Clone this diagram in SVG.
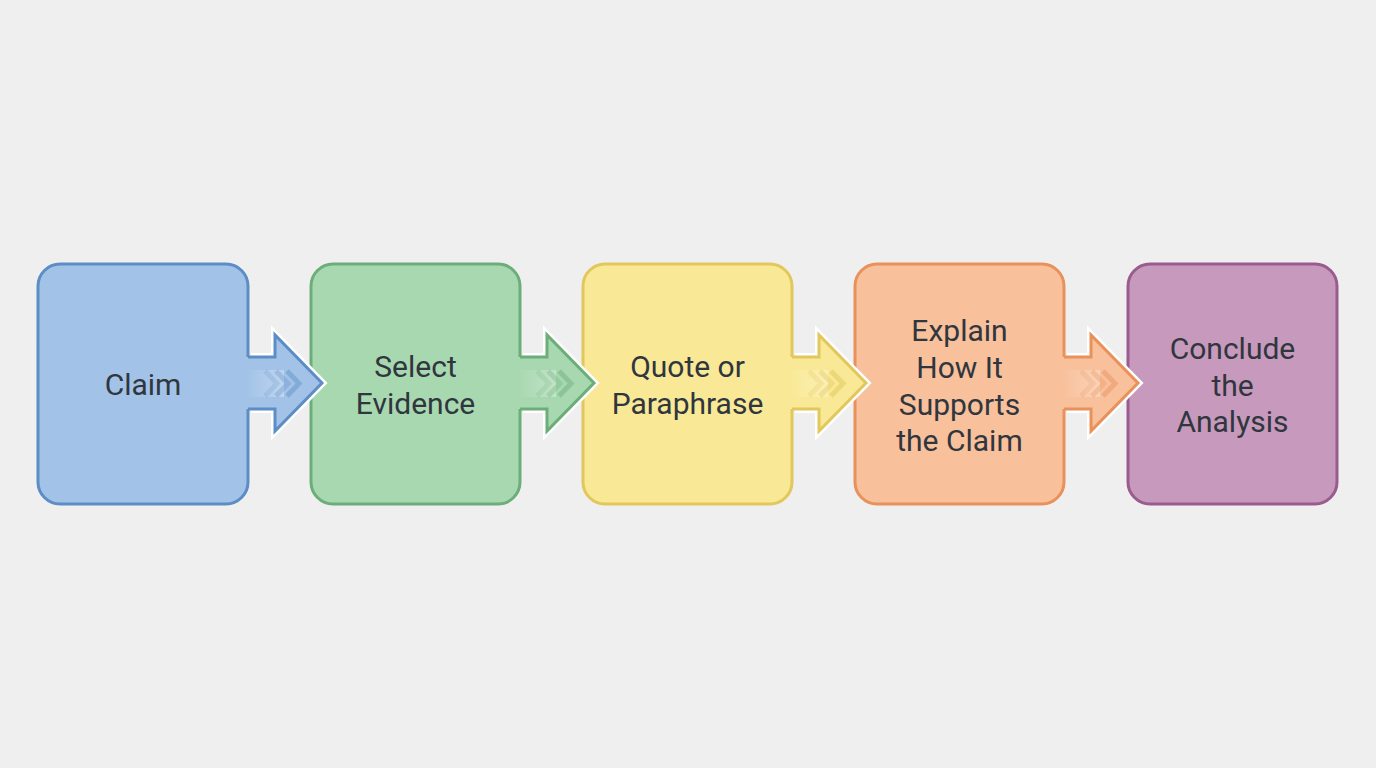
<svg xmlns="http://www.w3.org/2000/svg" width="1376" height="768" viewBox="0 0 1376 768">
<defs>
<style>
.box{stroke-width:3}
.lbl{font-family:Roboto,"Liberation Sans",sans-serif;font-size:30px;font-weight:400;fill:#30363e;text-anchor:middle}
.halo{fill:none;stroke:#ffffff;stroke-width:8;stroke-linejoin:miter}
.aout{fill:none;stroke-width:3;stroke-linejoin:miter}
.chev{fill:none;stroke-width:5}
</style>
<linearGradient id="band" x1="0" y1="0" x2="1" y2="0">
<stop offset="0" stop-color="#ffffff" stop-opacity="0"/>
<stop offset="1" stop-color="#ffffff" stop-opacity="0.3"/>
</linearGradient>
</defs>
<rect width="1376" height="768" fill="#efefef"/>
<g id="node-claim">
<rect class="box" x="38" y="264" width="210" height="240" rx="22" fill="#a2c3e7" stroke="#5d8dc5"/>
<text class="lbl" x="143" y="395">Claim</text>
</g>
<g id="node-evidence">
<rect class="box" x="311" y="264" width="209" height="240" rx="22" fill="#a8d8b0" stroke="#6cae79"/>
<text class="lbl" x="415.5" y="377">Select</text>
<text class="lbl" x="415.5" y="414">Evidence</text>
</g>
<g id="node-quote">
<rect class="box" x="583" y="264" width="209" height="240" rx="22" fill="#f9e996" stroke="#e2c75c"/>
<text class="lbl" x="687.5" y="377">Quote or</text>
<text class="lbl" x="687.5" y="414">Paraphrase</text>
</g>
<g id="node-explain">
<rect class="box" x="855" y="264" width="209" height="240" rx="22" fill="#f8c09b" stroke="#e8915b"/>
<text class="lbl" x="959.5" y="341">Explain</text>
<text class="lbl" x="959.5" y="378">How It</text>
<text class="lbl" x="959.5" y="415">Supports</text>
<text class="lbl" x="959.5" y="451">the Claim</text>
</g>
<g id="node-conclude">
<rect class="box" x="1128" y="264" width="209" height="240" rx="22" fill="#c799bc" stroke="#9a5c8f"/>
<text class="lbl" x="1232.5" y="359">Conclude</text>
<text class="lbl" x="1232.5" y="396">the</text>
<text class="lbl" x="1232.5" y="432">Analysis</text>
</g>
<g id="connectors">
<g transform="translate(248,0)">
<path class="halo" d="M3,357 H27 V335 L74,383 L27,431 V409 H3"/>
<path d="M-3,357 H27 V335 L74,383 L27,431 V409 H-3 Z" fill="#a2c3e7"/>
<rect x="-2" y="370" width="38" height="27" fill="url(#band)"/>
<polyline class="chev" points="17,371 29,383.5 17,396" stroke="#5d8dc5" stroke-opacity="0.2"/>
<polyline class="chev" points="28,371 40,383.5 28,396" stroke="#5d8dc5" stroke-opacity="0.32"/>
<polyline class="chev" points="39,371 51,383.5 39,396" stroke="#5d8dc5" stroke-opacity="0.45"/>
<path class="aout" d="M0,357 H27 V335 L74,383 L27,431 V409 H0" stroke="#5d8dc5"/>
</g>
<g transform="translate(520,0)">
<path class="halo" d="M3,357 H27 V335 L74,383 L27,431 V409 H3"/>
<path d="M-3,357 H27 V335 L74,383 L27,431 V409 H-3 Z" fill="#a8d8b0"/>
<rect x="-2" y="370" width="38" height="27" fill="url(#band)"/>
<polyline class="chev" points="17,371 29,383.5 17,396" stroke="#6cae79" stroke-opacity="0.2"/>
<polyline class="chev" points="28,371 40,383.5 28,396" stroke="#6cae79" stroke-opacity="0.32"/>
<polyline class="chev" points="39,371 51,383.5 39,396" stroke="#6cae79" stroke-opacity="0.45"/>
<path class="aout" d="M0,357 H27 V335 L74,383 L27,431 V409 H0" stroke="#6cae79"/>
</g>
<g transform="translate(792,0)">
<path class="halo" d="M3,357 H27 V335 L74,383 L27,431 V409 H3"/>
<path d="M-3,357 H27 V335 L74,383 L27,431 V409 H-3 Z" fill="#f9e996"/>
<rect x="-2" y="370" width="38" height="27" fill="url(#band)"/>
<polyline class="chev" points="17,371 29,383.5 17,396" stroke="#e2c75c" stroke-opacity="0.25"/>
<polyline class="chev" points="28,371 40,383.5 28,396" stroke="#e2c75c" stroke-opacity="0.38"/>
<polyline class="chev" points="39,371 51,383.5 39,396" stroke="#e2c75c" stroke-opacity="0.5"/>
<path class="aout" d="M0,357 H27 V335 L74,383 L27,431 V409 H0" stroke="#e2c75c"/>
</g>
<g transform="translate(1064,0)">
<path class="halo" d="M3,357 H27 V335 L74,383 L27,431 V409 H3"/>
<path d="M-3,357 H27 V335 L74,383 L27,431 V409 H-3 Z" fill="#f8c09b"/>
<rect x="-2" y="370" width="38" height="27" fill="url(#band)"/>
<polyline class="chev" points="17,371 29,383.5 17,396" stroke="#e8915b" stroke-opacity="0.2"/>
<polyline class="chev" points="28,371 40,383.5 28,396" stroke="#e8915b" stroke-opacity="0.32"/>
<polyline class="chev" points="39,371 51,383.5 39,396" stroke="#e8915b" stroke-opacity="0.45"/>
<path class="aout" d="M0,357 H27 V335 L74,383 L27,431 V409 H0" stroke="#e8915b"/>
</g>
</g>
</svg>
